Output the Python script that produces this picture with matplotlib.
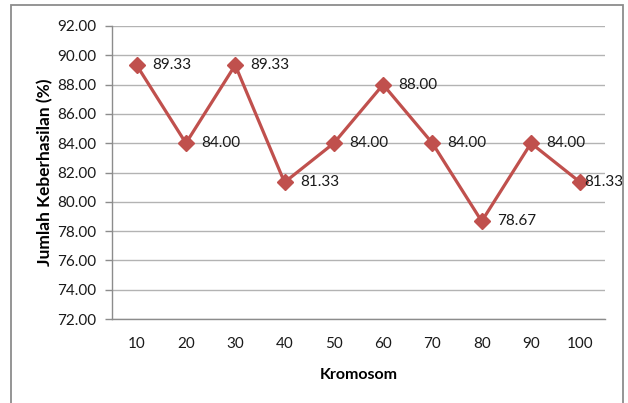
import matplotlib.pyplot as plt
from matplotlib.patches import Rectangle

plt.rcParams['font.family'] = ['Lato', 'DejaVu Sans']

# data
kromosom = ['10', '20', '30', '40', '50', '60', '70', '80', '90', '100']
keberhasilan = [89.33, 84.00, 89.33, 81.33, 84.00, 88.00, 84.00, 78.67, 84.00, 81.33]
y_ticks = [72, 74, 76, 78, 80, 82, 84, 86, 88, 90, 92]

fig = plt.figure(figsize=(6.28, 4.03), dpi=100)
ax = fig.add_axes([0.1783, 0.2084, 0.785, 0.7271])

# outer chart frame
fig.patches.append(Rectangle((11 / 628, -0.05), 612 / 628, 1.05 - 5 / 403,
                             transform=fig.transFigure, fill=False,
                             edgecolor='#8c8c8c', linewidth=1.3))

x = list(range(len(kromosom)))
ax.plot(x, keberhasilan, color='#C0504D', linewidth=2.3, marker='D',
        markersize=8, markerfacecolor='#C0504D', markeredgecolor='#C0504D')

for xi, yi in zip(x, keberhasilan):
    # the last label sits on top of its marker (no room at the right edge)
    dx = 3 if xi == len(x) - 1 else 11
    ax.annotate(f'{yi:.2f}', (xi, yi), xytext=(dx, 0), textcoords='offset points',
                ha='left', va='center', fontsize=11, color='#1a1a1a')

ax.set_xlim(-0.5, len(kromosom) - 0.5)
ax.set_ylim(72, 92)
ax.set_xticks(x)
ax.set_xticklabels(kromosom, fontsize=11)
ax.set_yticks(y_ticks)
ax.set_yticklabels([f'{v:.2f}' for v in y_ticks], fontsize=11)
ax.tick_params(axis='x', length=0, pad=13, colors='#1a1a1a')
ax.tick_params(axis='y', length=5, width=1, color='#8c8c8c', pad=6, labelcolor='#1a1a1a')

ax.grid(axis='y', color='#b3b3b3', linewidth=1)
ax.set_axisbelow(True)
for side in ['top', 'right']:
    ax.spines[side].set_visible(False)
for side in ['left', 'bottom']:
    ax.spines[side].set_color('#8c8c8c')
    ax.spines[side].set_linewidth(1)

ax.set_xlabel('Kromosom', fontsize=11.5, fontweight='bold', labelpad=12)
ax.set_ylabel('Jumlah Keberhasilan (%)', fontsize=12.5, fontweight='bold', labelpad=3)

plt.savefig('out.png', dpi=100)
